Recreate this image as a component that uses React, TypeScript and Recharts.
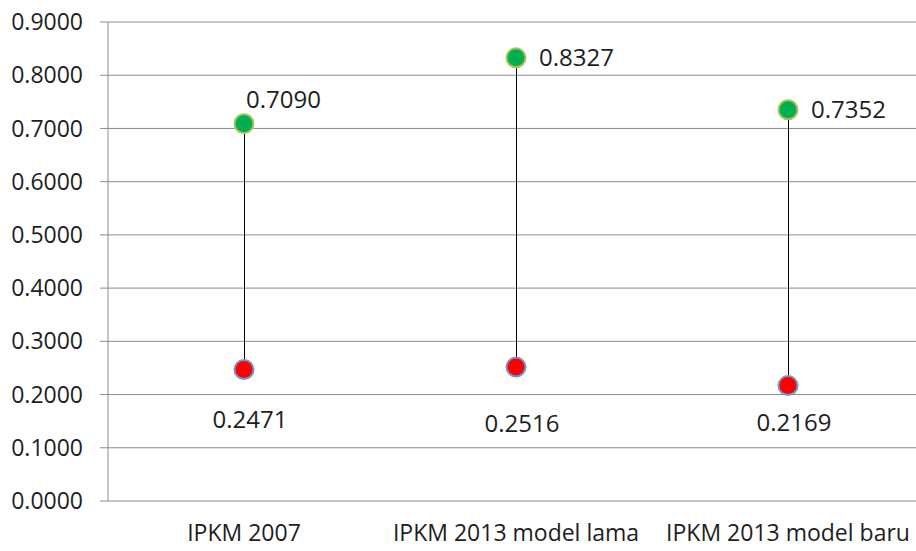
import React from "react";
import { ComposedChart, Line, Bar, XAxis, YAxis, CartesianGrid, LabelList } from "recharts";

const categories = ["IPKM 2007", "IPKM 2013 model lama", "IPKM 2013 model baru"];
const highValues = [0.709, 0.8327, 0.7352];
const lowValues = [0.2471, 0.2516, 0.2169];
const yTicks = [0, 0.1, 0.2, 0.3, 0.4, 0.5, 0.6, 0.7, 0.8, 0.9];
const boundaryTicks = [0, 1, 2, 3];

const data = categories.map((name, i) => ({
  name,
  high: highValues[i],
  low: lowValues[i],
  range: [lowValues[i], highValues[i]],
}));

const FONT = "'Open Sans', 'Noto Sans', sans-serif";
const TEXT = "#1e1e1e";

const GreenDot = (p: any) => (
  <circle cx={p.cx} cy={p.cy} r={9.5} fill="#00B050" stroke="#A8C35A" strokeWidth={2} />
);
const RedDot = (p: any) => (
  <circle cx={p.cx} cy={p.cy} r={9.5} fill="#FF0000" stroke="#6E98CE" strokeWidth={2} />
);

const HighLabel = (p: any) => {
  const above = p.index === 0;
  const x = p.x + (above ? 2 : 23);
  const y = p.y + (above ? -24 : 0);
  return (
    <text x={x} y={y} dy="0.36em" textAnchor="start" fontFamily={FONT} fontSize={24} fill={TEXT}>
      {Number(p.value).toFixed(4)}
    </text>
  );
};

const lowOffsets = [50, 56, 37];
const LowLabel = (p: any) => (
  <text x={p.x + 6} y={p.y + lowOffsets[p.index]} dy="0.36em" textAnchor="middle" fontFamily={FONT} fontSize={24} fill={TEXT}>
    {Number(p.value).toFixed(4)}
  </text>
);

export default function App() {
  return (
    <div style={{ position: "absolute", left: 0, top: 0, background: "#fff" }}>
      <ComposedChart width={924} height={551} data={data} margin={{ top: 22, right: 0, bottom: 0, left: 0 }}>
        <CartesianGrid vertical={false} stroke="#8c8c8c" strokeWidth={1} />
        <XAxis
          xAxisId="ticks"
          type="number"
          domain={[0, 3]}
          ticks={boundaryTicks}
          height={0}
          tick={false}
          tickSize={8}
          tickLine={{ stroke: "#8c8c8c" }}
          axisLine={{ stroke: "#8c8c8c" }}
          allowDataOverflow
        />
        <XAxis
          dataKey="name"
          height={50}
          tickLine={false}
          axisLine={false}
          tickMargin={18}
          tick={{ fontFamily: FONT, fontSize: 23, fill: TEXT }}
          interval={0}
        />
        <YAxis
          width={108}
          domain={[0, 0.9]}
          ticks={yTicks}
          tickFormatter={(v: number) => v.toFixed(4)}
          tickSize={8}
          tickMargin={17}
          tickLine={{ stroke: "#8c8c8c" }}
          axisLine={{ stroke: "#8c8c8c" }}
          tick={{ fontFamily: FONT, fontSize: 23, fill: TEXT }}
          interval={0}
        />
        <Bar dataKey="range" barSize={1} fill="#000" isAnimationActive={false} />
        <Line dataKey="high" stroke="none" dot={<GreenDot />} activeDot={false} isAnimationActive={false}>
          <LabelList dataKey="high" content={<HighLabel />} />
        </Line>
        <Line dataKey="low" stroke="none" dot={<RedDot />} activeDot={false} isAnimationActive={false}>
          <LabelList dataKey="low" content={<LowLabel />} />
        </Line>
      </ComposedChart>
    </div>
  );
}
